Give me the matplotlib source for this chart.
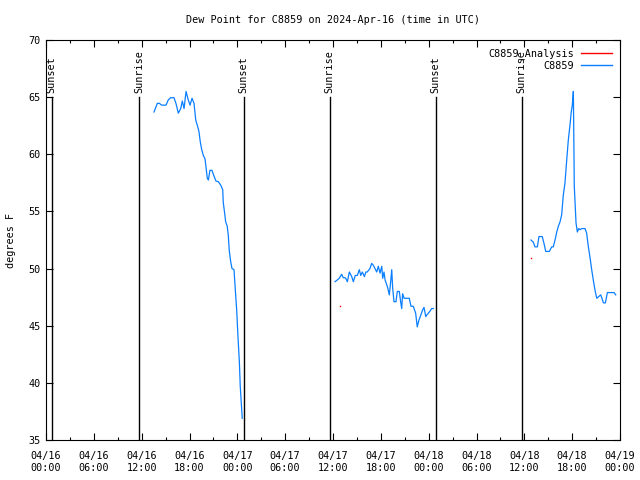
import matplotlib
matplotlib.use("Agg")
import matplotlib.pyplot as plt
import matplotlib.dates as mdates
from matplotlib.lines import Line2D
import pandas as pd

# observed dew point (deg F), three separate daytime stretches
obs1_times = ["04-16 13:33", "04-16 13:58", "04-16 14:13", "04-16 14:31", "04-16 15:03", "04-16 15:20",
              "04-16 15:38", "04-16 16:03", "04-16 16:18", "04-16 16:36", "04-16 16:54", "04-16 17:06",
              "04-16 17:19", "04-16 17:34", "04-16 17:51", "04-16 18:04", "04-16 18:19", "04-16 18:34",
              "04-16 18:47", "04-16 19:02", "04-16 19:11", "04-16 19:21", "04-16 19:32", "04-16 19:44",
              "04-16 19:57", "04-16 20:04", "04-16 20:14", "04-16 20:22", "04-16 20:34", "04-16 20:49",
              "04-16 21:04", "04-16 21:19", "04-16 21:37", "04-16 21:55", "04-16 22:10", "04-16 22:14",
              "04-16 22:25", "04-16 22:32", "04-16 22:44", "04-16 22:52", "04-16 22:59", "04-16 23:10",
              "04-16 23:20", "04-16 23:35", "04-16 23:45", "04-16 23:55", "04-17 00:05", "04-17 00:15",
              "04-17 00:22", "04-17 00:30", "04-17 00:37"]
obs1_vals = [63.7, 64.46, 64.46, 64.3, 64.3, 64.75, 64.95, 64.95, 64.46, 63.6, 64.0, 64.66,
             64.0, 65.5, 64.75, 64.3, 64.9, 64.46, 63.0, 62.4, 62.0, 61.1, 60.4, 59.9,
             59.6, 58.9, 57.9, 57.75, 58.6, 58.6, 58.1, 57.66, 57.6, 57.3, 56.9, 55.8,
             54.8, 54.1, 53.7, 52.9, 51.6, 50.6, 50.0, 49.9, 48.1, 46.4, 44.0, 41.9,
             39.7, 38.2, 36.9]

obs2_times = ["04-17 12:15", "04-17 12:32", "04-17 12:47", "04-17 13:05", "04-17 13:17", "04-17 13:30",
              "04-17 13:38", "04-17 13:48", "04-17 14:03", "04-17 14:21", "04-17 14:33", "04-17 14:48",
              "04-17 15:03", "04-17 15:18", "04-17 15:29", "04-17 15:41", "04-17 15:56", "04-17 16:08",
              "04-17 16:18", "04-17 16:31", "04-17 16:38", "04-17 16:51", "04-17 17:03", "04-17 17:16",
              "04-17 17:29", "04-17 17:41", "04-17 17:54", "04-17 18:07", "04-17 18:14", "04-17 18:24",
              "04-17 18:32", "04-17 18:44", "04-17 18:52", "04-17 19:04", "04-17 19:14", "04-17 19:22",
              "04-17 19:29", "04-17 19:39", "04-17 19:54", "04-17 20:04", "04-17 20:19", "04-17 20:29",
              "04-17 20:37", "04-17 20:44", "04-17 20:55", "04-17 21:15", "04-17 21:34", "04-17 21:47",
              "04-17 22:04", "04-17 22:22", "04-17 22:34", "04-17 22:47", "04-17 23:00", "04-17 23:15",
              "04-17 23:25", "04-17 23:38", "04-17 23:50", "04-18 00:05", "04-18 00:23", "04-18 00:35"]
obs2_vals = [48.85, 49.0, 49.15, 49.5, 49.2, 49.2, 49.1, 48.85, 49.7, 49.3, 48.85, 49.4,
             49.4, 49.9, 49.4, 49.7, 49.3, 49.7, 49.7, 49.9, 50.0, 50.45, 50.3, 50.0,
             49.7, 50.2, 49.6, 50.2, 49.15, 49.7, 49.0, 48.6, 48.3, 47.7, 48.85, 49.9,
             48.3, 47.1, 47.1, 48.0, 48.0, 47.1, 46.5, 47.8, 47.4, 47.4, 47.4, 46.7,
             46.7, 46.1, 44.9, 45.5, 45.9, 46.4, 46.6, 45.8, 46.0, 46.2, 46.5, 46.5]

obs3_times = ["04-18 12:50", "04-18 13:08", "04-18 13:20", "04-18 13:38", "04-18 13:50", "04-18 14:15",
              "04-18 14:28", "04-18 14:41", "04-18 15:08", "04-18 15:26", "04-18 15:38", "04-18 15:51",
              "04-18 16:04", "04-18 16:16", "04-18 16:29", "04-18 16:41", "04-18 16:53", "04-18 17:06",
              "04-18 17:19", "04-18 17:31", "04-18 17:44", "04-18 17:52", "04-18 18:01", "04-18 18:09",
              "04-18 18:16", "04-18 18:29", "04-18 18:39", "04-18 18:49", "04-18 18:59", "04-18 19:12",
              "04-18 19:24", "04-18 19:37", "04-18 19:49", "04-18 20:02", "04-18 20:14", "04-18 20:27",
              "04-18 20:39", "04-18 20:52", "04-18 21:05", "04-18 21:20", "04-18 21:35", "04-18 21:44",
              "04-18 21:55", "04-18 22:10", "04-18 22:25", "04-18 22:45", "04-18 23:15", "04-18 23:28"]
obs3_vals = [52.5, 52.3, 51.9, 51.9, 52.8, 52.8, 52.2, 51.5, 51.5, 51.9, 51.9, 52.5,
             53.2, 53.7, 54.1, 54.7, 56.4, 57.5, 59.5, 61.25, 62.6, 63.6, 64.3, 65.5,
             57.2, 54.0, 53.2, 53.5, 53.4, 53.5, 53.5, 53.5, 53.1, 51.9, 51.0, 49.9,
             49.0, 48.1, 47.4, 47.55, 47.7, 47.4, 47.0, 47.0, 47.9, 47.9, 47.9, 47.7]

analysis_times = ["04-17 12:53", "04-18 12:51"]
analysis_vals = [46.7, 50.9]

sun_times = ["04-16 00:42", "04-16 11:40", "04-17 00:47", "04-17 11:35", "04-18 00:53", "04-18 11:40"]
sun_labels = ["Sunset", "Sunrise", "Sunset", "Sunrise", "Sunset", "Sunrise"]


def to_dt(ts):
    return pd.to_datetime(["2024-" + t for t in ts])


FONT = "DejaVu Sans Mono"
FS = 7.3
BLUE = "#0a7fff"

fig = plt.figure(figsize=(6.4, 4.8), dpi=100)
ax = fig.add_axes([46 / 640, 40 / 480, 574 / 640, 400 / 480])

for ts, vs in [(obs1_times, obs1_vals), (obs2_times, obs2_vals), (obs3_times, obs3_vals)]:
    ax.plot(to_dt(ts), vs, color=BLUE, lw=0.9)

ax.plot(to_dt(analysis_times), analysis_vals, ls="none", marker="s", ms=1.0,
        color="red", mec="none")

for t, lab in zip(to_dt(sun_times), sun_labels):
    ax.plot([t, t], [35, 65], color="black", lw=1.0)
    ax.text(t, 65.4, lab, rotation=90, ha="center", va="bottom",
            fontsize=FS, family=FONT)

ax.set_xlim(pd.Timestamp("2024-04-16 00:00"), pd.Timestamp("2024-04-19 00:00"))
ax.set_ylim(35, 70)
ax.set_yticks(range(35, 71, 5))

ax.xaxis.set_major_locator(mdates.HourLocator(byhour=range(0, 24, 6)))
ax.xaxis.set_minor_locator(mdates.HourLocator(byhour=range(0, 24, 3)))
ax.xaxis.set_major_formatter(mdates.DateFormatter("%m/%d\n%H:%M"))

ax.tick_params(which="both", direction="in", top=True, right=True, width=0.8)
ax.tick_params(which="major", length=5, labelsize=FS)
ax.tick_params(which="minor", length=2.5)
ax.tick_params(axis="x", which="major", pad=8)
ax.tick_params(axis="y", which="major", pad=4)
for lab in ax.get_xticklabels() + ax.get_yticklabels():
    lab.set_family(FONT)
for sp in ax.spines.values():
    sp.set_linewidth(0.8)

ax.set_title("Dew Point for C8859 on 2024-Apr-16 (time in UTC)",
             fontsize=FS, family=FONT, pad=12)
ax.set_ylabel("degrees F", fontsize=FS, family=FONT, labelpad=9)

handles = [Line2D([], [], color="red", lw=1.0), Line2D([], [], color=BLUE, lw=1.0)]
leg = ax.legend(handles, ["C8859_Analysis", "C8859"], loc="upper right",
                bbox_to_anchor=(1.0, 1.0), frameon=False, markerfirst=False,
                prop={"family": FONT, "size": FS}, handlelength=3.0,
                handletextpad=0.7, labelspacing=0.2, borderaxespad=0.4)
for t in leg.get_texts():
    t.set_ha("right")

fig.savefig("out.png", dpi=100)
